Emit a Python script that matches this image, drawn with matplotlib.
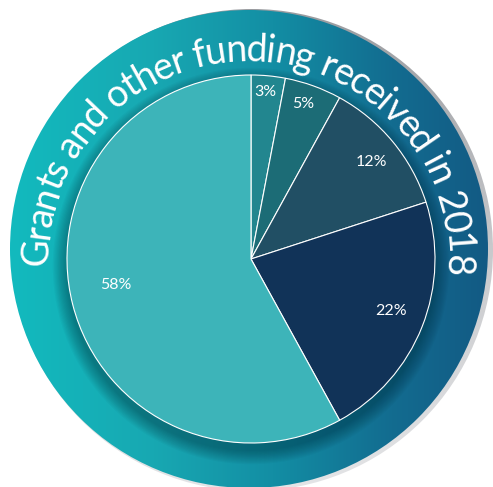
import numpy as np
import matplotlib
matplotlib.use("Agg")
import matplotlib.pyplot as plt
from matplotlib.patches import Circle
from matplotlib.colors import LinearSegmentedColormap
from matplotlib import font_manager
from matplotlib.ft2font import FT2Font

# data
shares = [3, 5, 12, 22, 58]
labels = ["3%", "5%", "12%", "22%", "58%"]
colors = ["#22868f", "#1c6c76", "#214f64", "#113358", "#3db4b9"]
label_dist = [0.91, 0.89, 0.84, 0.81, 0.75]
label_shift = [0.6, 1.4, -0.9, 1.2, -3.7]   # degrees, nudges off the wedge middle
title = "Grants and other funding received in 2018"

FONT = "Lato"
W, H = 493, 487

fig = plt.figure(figsize=(W / 100, H / 100), dpi=100)
ax = fig.add_axes([0, 0, 1, 1])

# grey shadow disc behind the badge
grey_c, grey_r = (252, H - 250), 241
grey = Circle(grey_c, grey_r, facecolor="none", edgecolor="none")
ax.add_patch(grey)
gcm = LinearSegmentedColormap.from_list("g", ["#e4e5e7", "#c8c9cc", "#9a9ca0"])
gimg = np.linspace(0, 1, 256).reshape(-1, 1)
im = ax.imshow(gimg, cmap=gcm, origin="lower", aspect="auto",
               extent=[grey_c[0] - grey_r, grey_c[0] + grey_r,
                       grey_c[1] - grey_r, grey_c[1] + grey_r], zorder=1)
im.set_clip_path(grey)

# gradient ring
ring_c, ring_r = (249, H - 249), 239
ring = Circle(ring_c, ring_r, facecolor="none", edgecolor="none")
ax.add_patch(ring)
rcm = LinearSegmentedColormap.from_list(
    "r", [(0, "#12babe"), (0.3, "#18a8b2"), (0.55, "#138ea4"), (0.8, "#126c90"), (1, "#135a84")])
rimg = np.linspace(0, 1, 256).reshape(1, -1)
im2 = ax.imshow(rimg, cmap=rcm, origin="lower", aspect="auto",
                extent=[ring_c[0] - ring_r, ring_c[0] + ring_r,
                        ring_c[1] - ring_r, ring_c[1] + ring_r], zorder=2)
im2.set_clip_path(ring)

# soft shadow under the pie
pie_c, pie_r = (251, H - 259), 184
for i in range(12):
    sh = Circle((pie_c[0], pie_c[1] - 7), pie_r + 1 + i * 1.2,
                facecolor="#04202c", edgecolor="none", alpha=0.035, zorder=3)
    ax.add_patch(sh)
    sh.set_clip_path(ring)

# pie
wedges, _ = ax.pie(shares, colors=colors, startangle=90, counterclock=False,
                   center=pie_c, radius=pie_r,
                   wedgeprops=dict(edgecolor="white", linewidth=0.8))
for w in wedges:
    w.set_zorder(4)

for w, lab, d, s in zip(wedges, labels, label_dist, label_shift):
    mid = np.radians((w.theta1 + w.theta2) / 2 + s)
    ax.text(pie_c[0] + d * pie_r * np.cos(mid), pie_c[1] + d * pie_r * np.sin(mid),
            lab, ha="center", va="center", color="white", fontsize=11.5,
            family=FONT, zorder=5)

# curved title along the ring
txt_c, txt_r = (247, H - 260), 199
a_start, a_end = np.radians(181.4), np.radians(-4.3)
tracking = 0.92
path = font_manager.findfont(font_manager.FontProperties(family=FONT))
ft = FT2Font(path)
ft.set_size(72, 72)
adv = []
for ch in title:
    g = ft.load_char(ord(ch))
    adv.append(g.linearHoriAdvance / 65536 / 72)
adv = np.array(adv) * tracking
arc = txt_r * (a_start - a_end)
em_px = arc / adv.sum()
fsize = em_px * 72 / 100
pos = np.cumsum(adv) - adv / 2
for ch, p in zip(title, pos):
    a = a_start - p * em_px / txt_r
    ax.text(txt_c[0] + txt_r * np.cos(a), txt_c[1] + txt_r * np.sin(a), ch,
            rotation=np.degrees(a) - 90, rotation_mode="anchor",
            ha="center", va="baseline", color="white", fontsize=fsize,
            family=FONT, zorder=6)

ax.set_xlim(0, W)
ax.set_ylim(0, H)
ax.set_aspect("auto")
ax.set_axis_off()

fig.savefig("out.png", dpi=100)
